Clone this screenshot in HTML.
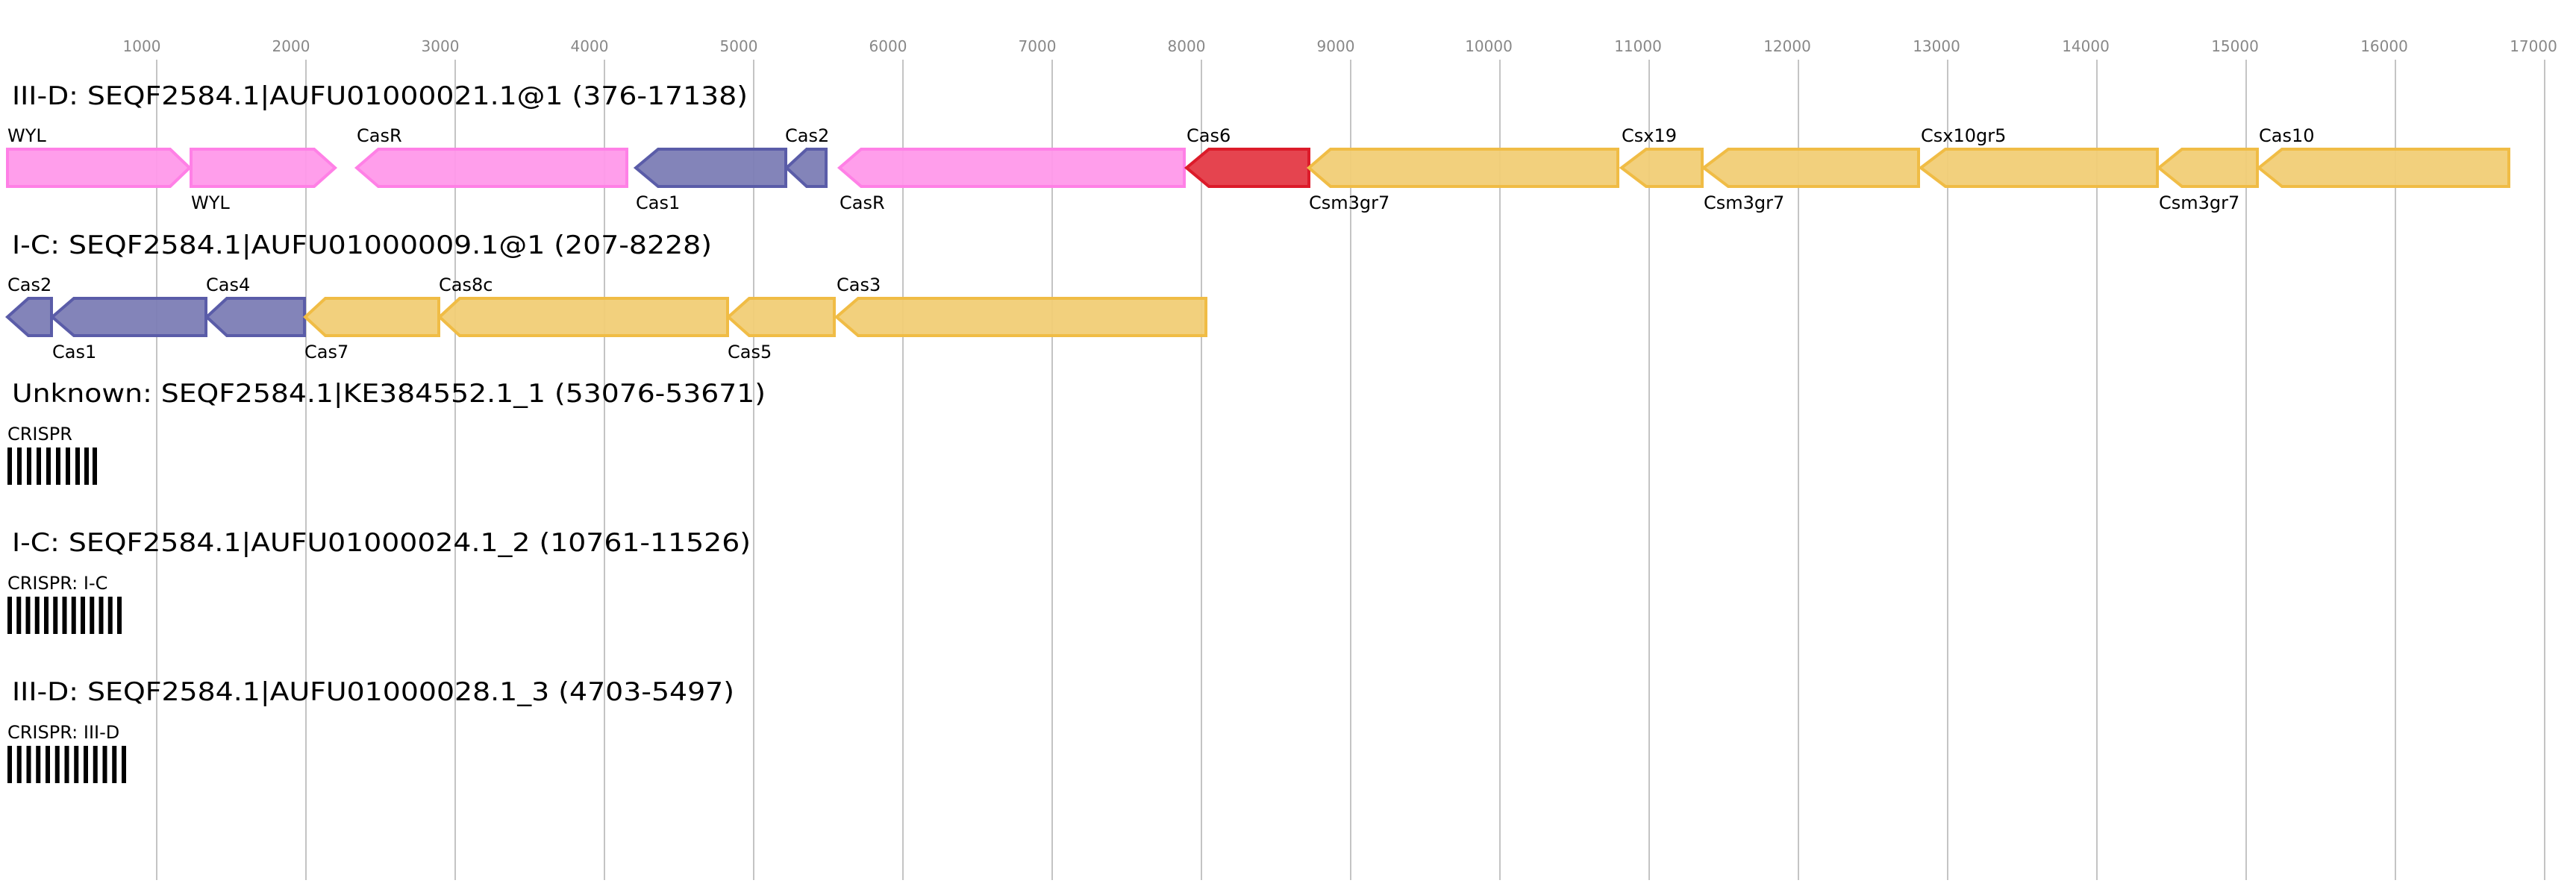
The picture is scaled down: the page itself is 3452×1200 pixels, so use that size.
<!DOCTYPE html>
<html><head><meta charset="utf-8"><style>
html,body{margin:0;padding:0;background:#fff;}
svg{display:block;}
text{font-family:"DejaVu Sans","Liberation Sans",sans-serif;}
</style></head><body>
<svg width="3452" height="1200" viewBox="0 0 3452 1200" xmlns="http://www.w3.org/2000/svg">
<g stroke="#c4c4c4" stroke-width="2">
<line x1="210" y1="80" x2="210" y2="1180"/><line x1="410" y1="80" x2="410" y2="1180"/>
<line x1="610" y1="80" x2="610" y2="1180"/><line x1="810" y1="80" x2="810" y2="1180"/>
<line x1="1010" y1="80" x2="1010" y2="1180"/><line x1="1210" y1="80" x2="1210" y2="1180"/>
<line x1="1410" y1="80" x2="1410" y2="1180"/><line x1="1610" y1="80" x2="1610" y2="1180"/>
<line x1="1810" y1="80" x2="1810" y2="1180"/><line x1="2010" y1="80" x2="2010" y2="1180"/>
<line x1="2210" y1="80" x2="2210" y2="1180"/><line x1="2410" y1="80" x2="2410" y2="1180"/>
<line x1="2610" y1="80" x2="2610" y2="1180"/><line x1="2810" y1="80" x2="2810" y2="1180"/>
<line x1="3010" y1="80" x2="3010" y2="1180"/><line x1="3210" y1="80" x2="3210" y2="1180"/>
<line x1="3410" y1="80" x2="3410" y2="1180"/>
</g>
<g fill="#888" font-size="20" text-anchor="middle">
<text x="190" y="69">1000</text><text x="390" y="69">2000</text><text x="590" y="69">3000</text>
<text x="790" y="69">4000</text><text x="990" y="69">5000</text><text x="1190" y="69">6000</text>
<text x="1390" y="69">7000</text><text x="1590" y="69">8000</text><text x="1790" y="69">9000</text>
<text x="1995" y="69">10000</text><text x="2195" y="69">11000</text><text x="2395" y="69">12000</text>
<text x="2595" y="69">13000</text><text x="2795" y="69">14000</text><text x="2995" y="69">15000</text>
<text x="3195" y="69">16000</text><text x="3395" y="69">17000</text>
</g>
<g font-size="34" fill="#000">
<text x="16" y="140" textLength="986" lengthAdjust="spacingAndGlyphs">III-D: SEQF2584.1|AUFU01000021.1@1 (376-17138)</text>
<text x="16" y="340" textLength="938" lengthAdjust="spacingAndGlyphs">I-C: SEQF2584.1|AUFU01000009.1@1 (207-8228)</text>
<text x="16" y="539" textLength="1010" lengthAdjust="spacingAndGlyphs">Unknown: SEQF2584.1|KE384552.1_1 (53076-53671)</text>
<text x="16" y="739" textLength="990" lengthAdjust="spacingAndGlyphs">I-C: SEQF2584.1|AUFU01000024.1_2 (10761-11526)</text>
<text x="16" y="939" textLength="968" lengthAdjust="spacingAndGlyphs">III-D: SEQF2584.1|AUFU01000028.1_3 (4703-5497)</text>
</g>
<g stroke-width="4">
<g fill="#ff99ea" stroke="#ff80e6" fill-opacity="0.95">
<polygon points="10,200 228,200 254,225 228,250 10,250"/>
<polygon points="256,200 421,200 449,225 421,250 256,250"/>
<polygon points="478,225 507,200 840,200 840,250 507,250"/>
<polygon points="1125,225 1154,200 1587,200 1587,250 1154,250"/>
</g>
<g fill="#7c7db5" stroke="#5a5ca8" fill-opacity="0.95">
<polygon points="852,225 882,200 1053,200 1053,250 882,250"/>
<polygon points="1054,225 1081,200 1107,200 1107,250 1081,250"/>
</g>
<polygon fill="#e5444f" stroke="#dc1b2a" points="1590,225 1620,200 1754,200 1754,250 1620,250"/>
<g fill="#f1cd76" stroke="#f0bc45" fill-opacity="0.95">
<polygon points="1754,225 1783,200 2168,200 2168,250 1783,250"/>
<polygon points="2173,225 2206,200 2281,200 2281,250 2206,250"/>
<polygon points="2283,225 2316,200 2571,200 2571,250 2316,250"/>
<polygon points="2574,225 2607,200 2891,200 2891,250 2607,250"/>
<polygon points="2893,225 2924,200 3025,200 3025,250 2924,250"/>
<polygon points="3027,225 3058,200 3362,200 3362,250 3058,250"/>
</g>
<g fill="#7c7db5" stroke="#5a5ca8" fill-opacity="0.95">
<polygon points="10,425 38,400 69,400 69,450 38,450"/>
<polygon points="70,425 99,400 276,400 276,450 99,450"/>
<polygon points="277,425 304,400 408,400 408,450 304,450"/>
</g>
<g fill="#f1cd76" stroke="#f0bc45" fill-opacity="0.95">
<polygon points="409,425 436,400 588,400 588,450 436,450"/>
<polygon points="589,425 616,400 975,400 975,450 616,450"/>
<polygon points="976,425 1004,400 1118,400 1118,450 1004,450"/>
<polygon points="1121,425 1150,400 1616,400 1616,450 1150,450"/>
</g>
</g>
<g font-size="24" fill="#000">
<text x="10" y="190">WYL</text><text x="256" y="280">WYL</text>
<text x="478" y="190">CasR</text><text x="852" y="280">Cas1</text>
<text x="1052" y="190">Cas2</text><text x="1125" y="280">CasR</text>
<text x="1590" y="190">Cas6</text><text x="1754" y="280">Csm3gr7</text>
<text x="2173" y="190">Csx19</text><text x="2283" y="280">Csm3gr7</text>
<text x="2574" y="190">Csx10gr5</text><text x="2893" y="280">Csm3gr7</text>
<text x="3027" y="190">Cas10</text>
<text x="10" y="390">Cas2</text><text x="70" y="480">Cas1</text>
<text x="276" y="390">Cas4</text><text x="408" y="480">Cas7</text>
<text x="588" y="390">Cas8c</text><text x="975" y="480">Cas5</text>
<text x="1121" y="390">Cas3</text>
<text x="10" y="590">CRISPR</text>
<text x="10" y="790">CRISPR: I-C</text>
<text x="10" y="990">CRISPR: III-D</text>
</g>
<g fill="#000">
<rect x="10" y="600" width="6" height="50"/><rect x="23" y="600" width="6" height="50"/><rect x="36" y="600" width="6" height="50"/><rect x="49" y="600" width="6" height="50"/><rect x="62" y="600" width="6" height="50"/><rect x="75" y="600" width="6" height="50"/><rect x="88" y="600" width="6" height="50"/><rect x="101" y="600" width="6" height="50"/><rect x="113" y="600" width="6" height="50"/><rect x="124" y="600" width="6" height="50"/>
<rect x="10" y="800" width="6" height="50"/><rect x="22.25" y="800" width="6" height="50"/><rect x="34.5" y="800" width="6" height="50"/><rect x="46.75" y="800" width="6" height="50"/><rect x="59" y="800" width="6" height="50"/><rect x="71.25" y="800" width="6" height="50"/><rect x="83.5" y="800" width="6" height="50"/><rect x="95.75" y="800" width="6" height="50"/><rect x="108" y="800" width="6" height="50"/><rect x="120.25" y="800" width="6" height="50"/><rect x="132.5" y="800" width="6" height="50"/><rect x="144.75" y="800" width="6" height="50"/><rect x="157" y="800" width="6" height="50"/>
<rect x="10" y="1000" width="6" height="50"/><rect x="22.75" y="1000" width="6" height="50"/><rect x="35.5" y="1000" width="6" height="50"/><rect x="48.25" y="1000" width="6" height="50"/><rect x="61" y="1000" width="6" height="50"/><rect x="73.75" y="1000" width="6" height="50"/><rect x="86.5" y="1000" width="6" height="50"/><rect x="99.25" y="1000" width="6" height="50"/><rect x="112" y="1000" width="6" height="50"/><rect x="124.75" y="1000" width="6" height="50"/><rect x="137.5" y="1000" width="6" height="50"/><rect x="150.25" y="1000" width="6" height="50"/><rect x="163" y="1000" width="6" height="50"/>
</g>
</svg>
</body></html>
